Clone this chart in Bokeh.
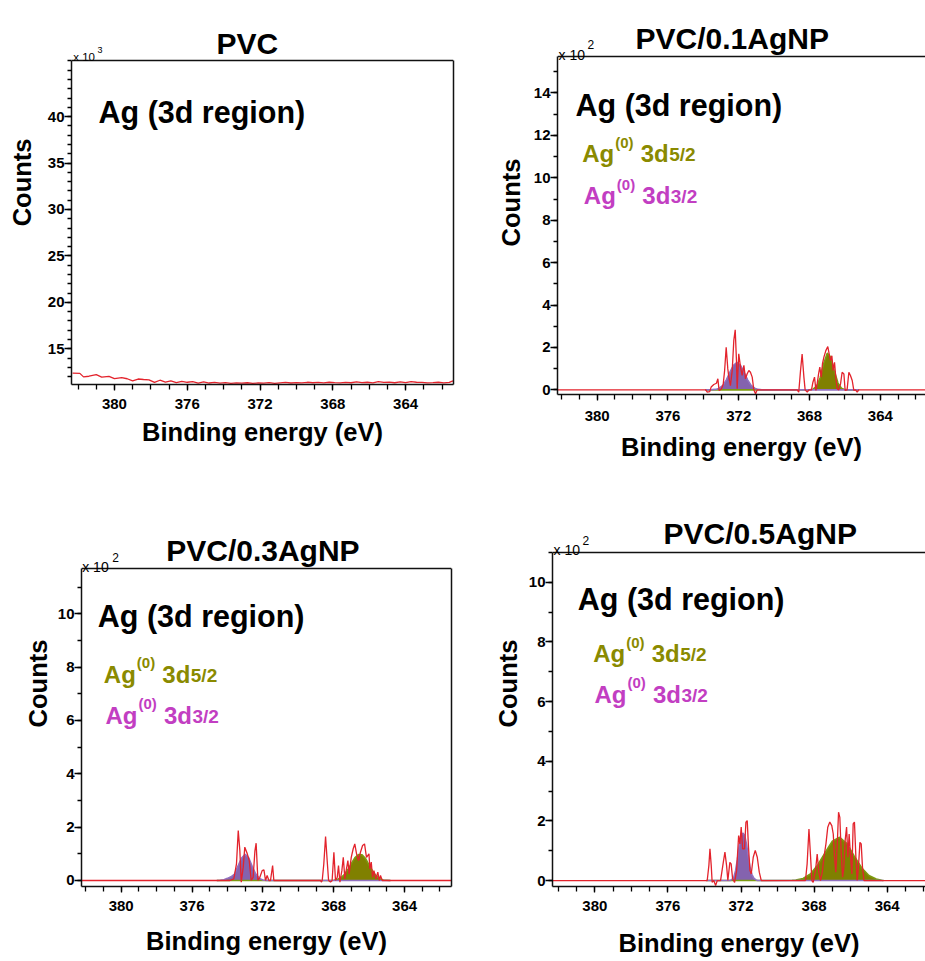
from bokeh.plotting import figure
from bokeh.models import Range1d, Label, Span, FixedTicker, LinearAxis, Title
from bokeh.layouts import column, row
from bokeh.embed import file_html
from bokeh.resources import INLINE

FONT = "Liberation Sans"
RED = "#E3232C"
OLIVE = "#808000"
PURPLE = "#8463AE"
OLIVE_TEXT = "#8A8A00"
MAGENTA_TEXT = "#C23EC2"

# ---------------- data ----------------
titles = ["PVC", "PVC/0.1AgNP", "PVC/0.3AgNP", "PVC/0.5AgNP"]
x_major_ticks = [380, 376, 372, 368, 364]
x_minor_ticks = list(range(361, 384))
y_major_pvc = [15, 20, 25, 30, 35, 40]
y_major_01 = [0, 2, 4, 6, 8, 10, 12, 14]
y_major_03 = [0, 2, 4, 6, 8, 10]
y_major_05 = [0, 2, 4, 6, 8, 10]
multipliers = ["3", "2", "2", "2"]

# PVC: (binding energy eV, counts x10^3)
pvc_trace = [
    (382.3, 12.38), (381.9, 12.36), (381.7, 11.98), (381.4, 12.05), (381.0, 12.22),
    (380.7, 11.96), (380.3, 12.04), (380.0, 11.80), (379.6, 11.90), (379.3, 11.78),
    (379.0, 11.55), (378.7, 11.75), (378.4, 11.70), (378.1, 11.66), (377.8, 11.38),
    (377.5, 11.62), (377.2, 11.42), (376.9, 11.56), (376.6, 11.36), (376.3, 11.50),
    (376.0, 11.40), (375.7, 11.46), (375.4, 11.30), (375.1, 11.44), (374.8, 11.32),
    (374.5, 11.40), (374.2, 11.30), (373.9, 11.36), (373.6, 11.28), (373.3, 11.34),
    (373.0, 11.30), (372.7, 11.35), (372.4, 11.28), (372.1, 11.33), (371.8, 11.30),
    (371.5, 11.36), (371.2, 11.29), (370.9, 11.34), (370.6, 11.38), (370.3, 11.32),
    (370.0, 11.36), (369.7, 11.33), (369.4, 11.40), (369.1, 11.35), (368.8, 11.38),
    (368.5, 11.34), (368.2, 11.40), (367.9, 11.36), (367.6, 11.33), (367.3, 11.38),
    (367.0, 11.35), (366.7, 11.44), (366.4, 11.36), (366.1, 11.40), (365.8, 11.34),
    (365.5, 11.46), (365.2, 11.38), (364.9, 11.42), (364.6, 11.35), (364.3, 11.44),
    (364.0, 11.36), (363.7, 11.46), (363.4, 11.40), (363.1, 11.38), (362.8, 11.34),
    (362.5, 11.36), (362.2, 11.40), (361.9, 11.34), (361.6, 11.38), (361.4, 11.55),
]

# PVC/0.1AgNP: (eV, counts x10^2)
ag01_trace = [
    (382.3, 0.0), (373.86, 0.0), (373.78, -0.11), (373.64, -0.08), (373.56, 0.13),
    (373.41, 0.25), (373.26, 0.31), (373.18, 0.52), (373.11, -0.03), (372.99, 0.03),
    (372.88, 0.25), (372.80, 0.90), (372.71, 2.01), (372.62, 1.00), (372.56, 0.60),
    (372.47, 0.20), (372.37, 0.91), (372.28, 2.33), (372.20, 2.83), (372.13, 1.38),
    (372.09, 0.05), (372.00, 1.70), (371.90, 1.07), (371.81, 0.68), (371.71, 1.15),
    (371.62, 0.52), (371.53, 0.75), (371.43, 0.91), (371.34, 0.83), (371.24, 0.60),
    (371.15, 0.0), (371.05, -0.19), (370.96, 0.0),
    (368.70, 0.0), (368.61, -0.11), (368.51, 0.91), (368.42, 1.69), (368.32, 0.60),
    (368.25, 0.0), (368.13, -0.11), (368.04, 0.0), (367.89, 0.0), (367.81, 0.36),
    (367.72, 0.60), (367.64, -0.03), (367.57, 0.28), (367.49, 0.75), (367.42, 1.07),
    (367.34, 0.60), (367.27, 1.23), (367.19, 1.54), (367.08, 1.85), (366.97, 2.04),
    (366.89, 1.69), (366.82, 1.38), (366.74, 1.61), (366.67, 0.91), (366.59, 1.30),
    (366.52, 0.60), (366.44, 0.05), (366.35, 0.0), (366.25, 0.28), (366.16, 0.83),
    (366.06, 0.75), (365.99, -0.03), (365.88, 0.0), (365.78, 0.83), (365.69, 0.68),
    (365.59, 0.44), (365.50, -0.03), (365.40, 0.0), (365.31, -0.11), (365.22, 0.0),
    (361.3, 0.0),
]
# fitted components: (eV, Ag(0) 3d5/2, Ag(0) 3d3/2)
ag01_fit = [
    (373.9, 0, 0.0), (373.5, 0, 0.01), (373.3, 0, 0.02), (373.1, 0, 0.08), (372.9, 0, 0.21),
    (372.7, 0, 0.47), (372.5, 0, 0.83), (372.3, 0, 1.16), (372.1, 0, 1.30), (371.9, 0, 1.16),
    (371.7, 0, 0.83), (371.5, 0, 0.47), (371.3, 0, 0.21), (371.1, 0, 0.08), (370.9, 0, 0.02),
    (370.7, 0, 0.0), (368.0, 0.0, 0), (367.8, 0.03, 0), (367.6, 0.17, 0), (367.4, 0.57, 0),
    (367.2, 1.24, 0), (367.0, 1.73, 0), (366.8, 1.54, 0), (366.6, 0.89, 0), (366.4, 0.33, 0),
    (366.2, 0.08, 0), (366.0, 0.01, 0), (365.8, 0.0, 0), (365.2, 0, 0),
]

# PVC/0.3AgNP
ag03_trace = [
    (382.3, 0.0), (373.86, 0.0), (373.64, 0.06), (373.49, 0.62), (373.39, 1.87),
    (373.30, 1.12), (373.22, -0.06), (373.11, 0.50), (373.02, 1.25), (372.88, 1.00),
    (372.77, 0.75), (372.66, 0.0), (372.55, 0.12), (372.45, 1.10), (372.38, 1.40),
    (372.28, 0.0), (372.17, 0.12), (372.04, 0.37), (371.94, 0.40), (371.85, 0.0),
    (371.76, 0.19), (371.66, 0.0), (371.57, 0.0), (371.45, 0.56), (371.38, 0.0),
    (371.29, 0.0),
    (368.74, 0.0), (368.70, -0.06), (368.65, 0.0), (368.56, 0.62), (368.46, 1.65),
    (368.37, 0.75), (368.29, 0.0), (368.18, -0.06), (368.09, 0.0), (367.99, 1.06),
    (367.90, 0.0), (367.80, 0.12), (367.73, 0.56), (367.65, -0.06), (367.54, 0.37),
    (367.46, 0.87), (367.37, 0.06), (367.28, 0.44), (367.20, 0.75), (367.13, 0.25),
    (367.01, 0.87), (366.90, 1.19), (366.81, 1.37), (366.71, 1.00), (366.60, 0.75),
    (366.49, 1.06), (366.37, 1.31), (366.26, 1.37), (366.15, 0.87), (366.01, 1.00),
    (365.96, 0.44), (365.88, 0.69), (365.81, 0.12), (365.73, 0.37), (365.62, 0.06),
    (365.51, 0.31), (365.43, 0.0), (365.36, 0.19), (365.26, 0.0), (361.3, 0.0),
]
ag03_fit = [
    (374.6, 0, 0.0), (374.4, 0, 0.01), (374.2, 0, 0.03), (374.0, 0, 0.08), (373.8, 0, 0.14),
    (373.6, 0, 0.24), (373.4, 0, 0.55), (373.2, 0, 0.84), (373.0, 0, 0.98), (372.8, 0, 0.85),
    (372.6, 0, 0.52), (372.4, 0, 0.24), (372.2, 0, 0.08), (372.0, 0, 0.02), (371.8, 0, 0.0),
    (368.2, 0.0, 0), (368.0, 0.01, 0), (367.8, 0.04, 0), (367.6, 0.10, 0), (367.4, 0.22, 0),
    (367.2, 0.41, 0), (367.0, 0.64, 0), (366.8, 0.86, 0), (366.6, 0.97, 0), (366.4, 0.96, 0),
    (366.2, 0.82, 0), (366.0, 0.58, 0), (365.8, 0.35, 0), (365.6, 0.17, 0), (365.4, 0.07, 0),
    (365.2, 0.02, 0), (365.0, 0.01, 0), (364.8, 0.0, 0),
]

# PVC/0.5AgNP
ag05_trace = [
    (382.3, 0.0), (373.85, 0.0), (373.76, 0.50), (373.70, 1.06), (373.63, 0.50),
    (373.58, -0.06), (373.49, 0.0), (373.39, -0.17), (373.30, 0.0), (373.12, 0.0),
    (372.97, 0.61), (372.88, 0.95), (372.79, 0.50), (372.72, 0.0), (372.61, 0.61),
    (372.54, 0.56), (372.46, 0.06), (372.35, -0.06), (372.24, 0.34), (372.13, 1.51),
    (372.06, 1.23), (371.99, 1.79), (371.91, 1.06), (371.81, 1.06), (371.73, 1.96),
    (371.66, 2.01), (371.59, 1.12), (371.51, 0.34), (371.44, 0.22), (371.33, 0.78),
    (371.22, 1.01), (371.11, 0.78), (371.00, 0.28), (370.89, 0.0),
    (368.47, 0.0), (368.38, 0.56), (368.28, 1.73), (368.19, 0.78), (368.12, 0.0),
    (368.05, -0.06), (367.92, 0.34), (367.83, 0.89), (367.74, 0.28), (367.65, 0.0),
    (367.55, 0.28), (367.46, 0.78), (367.35, 1.23), (367.25, 1.79), (367.14, 1.96),
    (367.03, 1.84), (366.95, 1.56), (366.88, 0.78), (366.81, 0.28), (366.73, 1.23),
    (366.66, 2.29), (366.59, 2.12), (366.52, 1.01), (366.44, 0.11), (366.37, 0.45),
    (366.30, 1.34), (366.22, 1.79), (366.15, 0.78), (366.08, 1.56), (366.00, 0.78),
    (365.93, 0.22), (365.86, 1.90), (365.79, 1.96), (365.71, 0.78), (365.64, 0.0),
    (365.57, 0.45), (365.49, 1.28), (365.42, 1.23), (365.35, 0.45), (365.27, 0.0),
    (361.3, 0.0),
]
ag05_fit = [
    (373.9, 0, 0.0), (372.6, 0, 0.0), (372.5, 0, 0.03), (372.4, 0, 0.10), (372.3, 0, 0.32),
    (372.2, 0, 0.70), (372.1, 0, 1.18), (372.0, 0, 1.50), (371.9, 0, 1.59), (371.8, 0, 1.52),
    (371.7, 0, 1.22), (371.6, 0, 0.80), (371.5, 0, 0.42), (371.4, 0, 0.20), (371.3, 0, 0.08),
    (371.2, 0, 0.03), (371.1, 0, 0.0), (370.9, 0, 0.0), (369.2, 0.01, 0), (369.0, 0.02, 0),
    (368.6, 0.07, 0), (368.2, 0.22, 0), (367.8, 0.52, 0), (367.4, 0.93, 0), (367.0, 1.32, 0),
    (366.6, 1.45, 0), (366.2, 1.24, 0), (365.8, 0.82, 0), (365.4, 0.43, 0), (365.0, 0.17, 0),
    (364.6, 0.05, 0), (364.3, 0.01, 0), (364.2, 0.0, 0),
]

# ---------------- layout (pixels) ----------------
# frame extends above the drawn box so that titles sit inside it; box_top is the
# value at the drawn top border.
GEO = [
    dict(w=470, h=460, bl=70, br=17, bt=10, bb=76, xr=(382.36, 361.37), yr=(11.16, 51.42),
         box_top=46.04, ymin=list(range(12, 47)), yals=0, xls=8, xals=6, right_edge=True,
         title=(145, -17), region=(27, 51.7), mult=(1.7, -3, "11.5px", 26, -10, "9px"),
         legend=None, counts_title=(128, 14)),
    dict(w=455, h=470, bl=87, br=0, bt=10, bb=76, xr=(382.24, 361.45), yr=(-0.22, 17.89),
         box_top=15.72, ymin=list(range(0, 16)), yals=6, xls=10, xals=9, right_edge=False,
         title=(78, -17.7), region=(18, 48), mult=(1, -2, "14px", 30, -11.7, "12px"),
         legend=((24.7, 97.3), (26.3, 139)), counts_title=None),
    dict(w=470, h=491, bl=81, br=19, bt=10, bb=75, xr=(382.24, 361.35), yr=(-0.225, 14.998),
         box_top=11.70, ymin=list(range(0, 12)), yals=3, xls=8, xals=13, right_edge=True,
         title=(84.7, -18), region=(16.3, 48), mult=(0.7, -1.3, "14px", 30.7, -11.4, "12px"),
         legend=((22.3, 106), (24, 147)), counts_title=None),
    dict(w=455, h=491, bl=82, br=0, bt=10, bb=75, xr=(382.32, 361.90), yr=(-0.20, 13.41),
         box_top=11.0, ymin=list(range(0, 12)), yals=4, xls=8, xals=15, right_edge=False,
         title=(111, -19), region=(25.3, 47), mult=(1, -2, "14px", 30, -12, "12px"),
         legend=((40.7, 101.3), (42, 142)), counts_title=None),
]


def add_text(p, g, dx, dy, text, size, color="black", bold=True):
    p.add_layout(Label(x=g["xr"][0], y=g["box_top"], x_units="data", y_units="data",
                       x_offset=dx, y_offset=-dy, text=text, text_font=FONT,
                       text_font_size=size, text_color=color,
                       text_font_style="bold" if bold else "normal",
                       text_align="left", text_baseline="alphabetic"))


def legend_line(p, g, x0, y0, color, sub):
    add_text(p, g, x0, y0, "Ag", "24px", color)
    add_text(p, g, x0 + 33, y0 - 11.5, "(0)", "15px", color)
    add_text(p, g, x0 + 58.5, y0, "3d", "24px", color)
    add_text(p, g, x0 + 87, y0 + 1, sub, "19px", color)


def style_ticks(ax, size="15px"):
    ax.major_label_text_font = FONT
    ax.major_label_text_font_size = size
    ax.major_label_text_font_style = "bold"
    ax.major_label_text_color = "black"
    ax.major_tick_in = 0
    ax.minor_tick_in = 0
    ax.axis_line_width = 1.5
    ax.axis_line_color = "#111111"
    ax.major_tick_line_width = 1.3
    ax.minor_tick_line_width = 1.3


def make_panel(title, trace, fit, y_major, mult, g):
    p = figure(width=g["w"], height=g["h"], x_range=Range1d(*g["xr"]),
               y_range=Range1d(*g["yr"]), output_backend="svg",
               toolbar_location=None, tools="",
               min_border_left=g["bl"], min_border_right=g["br"],
               min_border_top=g["bt"], min_border_bottom=g["bb"])
    p.background_fill_color = "white"
    p.border_fill_color = "white"
    p.outline_line_color = None
    p.grid.visible = False

    # box: top edge and (optionally) right edge
    p.add_layout(Span(location=g["box_top"], dimension="width",
                      line_color="#111111", line_width=1.5))
    if g["right_edge"]:
        ra = LinearAxis(bounds=(g["yr"][0], g["box_top"]),
                        ticker=FixedTicker(ticks=[]), major_label_text_font_size="0px",
                        major_tick_out=0, minor_tick_out=0, major_label_standoff=0,
                        axis_line_width=1.5, axis_line_color="#111111")
        p.add_layout(ra, "right")

    # x axis
    xa = p.xaxis[0]
    xa.ticker = FixedTicker(ticks=x_major_ticks, minor_ticks=x_minor_ticks)
    style_ticks(xa)
    xa.axis_label = "Binding energy (eV)"
    xa.axis_label_text_font = FONT
    xa.axis_label_text_font_size = "25.5px"
    xa.axis_label_text_font_style = "bold"
    xa.axis_label_text_color = "black"
    xa.axis_label_standoff = g["xals"]
    xa.major_label_standoff = g["xls"]
    xa.major_tick_out = 6
    xa.minor_tick_out = 5

    # y axis
    ya = p.yaxis[0]
    ya.ticker = FixedTicker(ticks=y_major, minor_ticks=g["ymin"])
    ya.bounds = (g["yr"][0], g["box_top"])
    style_ticks(ya)
    ya.major_label_standoff = 0
    ya.major_tick_out = 7
    ya.minor_tick_out = 4
    if g["counts_title"] is None:
        ya.axis_label = "Counts"
        ya.axis_label_text_font = FONT
        ya.axis_label_text_font_size = "25.5px"
        ya.axis_label_text_font_style = "bold"
        ya.axis_label_text_color = "black"
        ya.axis_label_standoff = g["yals"]
    else:
        off, so = g["counts_title"]
        p.add_layout(Title(text="Counts", align="right", offset=off,
                           vertical_align="top", standoff=so, text_font=FONT,
                           text_font_size="25.5px", text_font_style="bold",
                           text_color="black"), "left")

    # fitted components
    if fit is not None:
        fbe = [r[0] for r in fit]
        d52 = [r[1] for r in fit]
        d32 = [r[2] for r in fit]
        p.varea(x=fbe, y1=0, y2=d52, fill_color=OLIVE, fill_alpha=1.0)
        p.varea(x=fbe, y1=0, y2=d32, fill_color=PURPLE, fill_alpha=1.0)
        p.line(fbe, d52, line_color="#7C9A10", line_width=1.6)
        p.line(fbe, d32, line_color="#9070C0", line_width=1.6)

    # raw spectrum
    be = [r[0] for r in trace]
    cts = [r[1] for r in trace]
    p.line(be, cts, line_color=RED, line_width=1.3)

    # texts
    tx, ty = g["title"]
    add_text(p, g, tx, ty, title, "30px")
    rx, ry = g["region"]
    add_text(p, g, rx, ry, "Ag (3d region)", "30.5px")
    mx, my, msz, sx, sy, ssz = g["mult"]
    add_text(p, g, mx, my, "x 10", msz, bold=False)
    add_text(p, g, sx, sy, mult, ssz, bold=False)
    if g["legend"] is not None:
        (l1x, l1y), (l2x, l2y) = g["legend"]
        legend_line(p, g, l1x, l1y, OLIVE_TEXT, "5/2")
        legend_line(p, g, l2x, l2y, MAGENTA_TEXT, "3/2")
    return p


p1 = make_panel(titles[0], pvc_trace, None, y_major_pvc, multipliers[0], GEO[0])
p2 = make_panel(titles[1], ag01_trace, ag01_fit, y_major_01, multipliers[1], GEO[1])
p3 = make_panel(titles[2], ag03_trace, ag03_fit, y_major_03, multipliers[2], GEO[2])
p4 = make_panel(titles[3], ag05_trace, ag05_fit, y_major_05, multipliers[3], GEO[3])

layout = column(row(p1, p2, spacing=0), row(p3, p4, spacing=0), spacing=0)

open("out.html", "w").write(file_html(layout, INLINE))
